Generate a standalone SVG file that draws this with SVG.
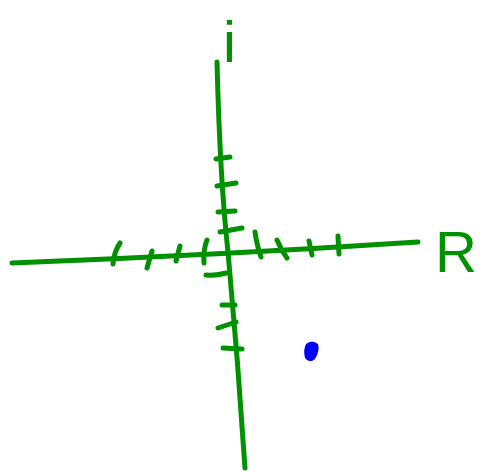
<svg xmlns="http://www.w3.org/2000/svg" width="481" height="471" viewBox="0 0 481 471">
<style>
.ax{fill:none;stroke:#009100;stroke-width:5;stroke-linecap:round;stroke-linejoin:round}
.tk{fill:none;stroke:#009100;stroke-width:5;stroke-linecap:round}
.lbl{font-family:"Liberation Sans",Arial,sans-serif;font-size:58px;fill:#009100}
</style>
<rect width="481" height="471" fill="#ffffff"/>
<g id="axes">
<path class="ax" d="M217,62 Q220,180 228,252 Q238,360 245,468"/>
<path class="ax" d="M12,263 Q220,255 418,242"/>
</g>
<g id="ticks-real">
<path class="tk" d="M120,243 Q114,252 113,264"/>
<path class="tk" d="M152,251 L147,268"/>
<path class="tk" d="M180,246 L176,261"/>
<path class="tk" d="M207,240 Q203,250 204,263"/>
<path class="tk" d="M255,232 Q257,246 261,257"/>
<path class="tk" d="M277,240 Q281,250 287,258"/>
<path class="tk" d="M309,241 L312,255"/>
<path class="tk" d="M338,236 L339,254"/>
</g>
<g id="ticks-imag">
<path class="tk" d="M216,159 L230,157"/>
<path class="tk" d="M217,186 L236,183"/>
<path class="tk" d="M218,212 L235,211"/>
<path class="tk" d="M220,232 L242,228"/>
<path class="tk" d="M206,275 Q216,276 226,273"/>
<path class="tk" d="M222,305 L235,305"/>
<path class="tk" d="M218,328 L236,322"/>
<path class="tk" d="M223,348 L242,349"/>
</g>
<g id="labels">
<text class="lbl" x="223" y="62">i</text>
<text class="lbl" x="435" y="272">R</text>
</g>
<g id="point">
<path d="M306,344 Q312,339 318,344 Q320,351 315,359 Q309,364 305,358 Q303,350 306,344 Z" fill="#0000ff"/>
</g>
</svg>
